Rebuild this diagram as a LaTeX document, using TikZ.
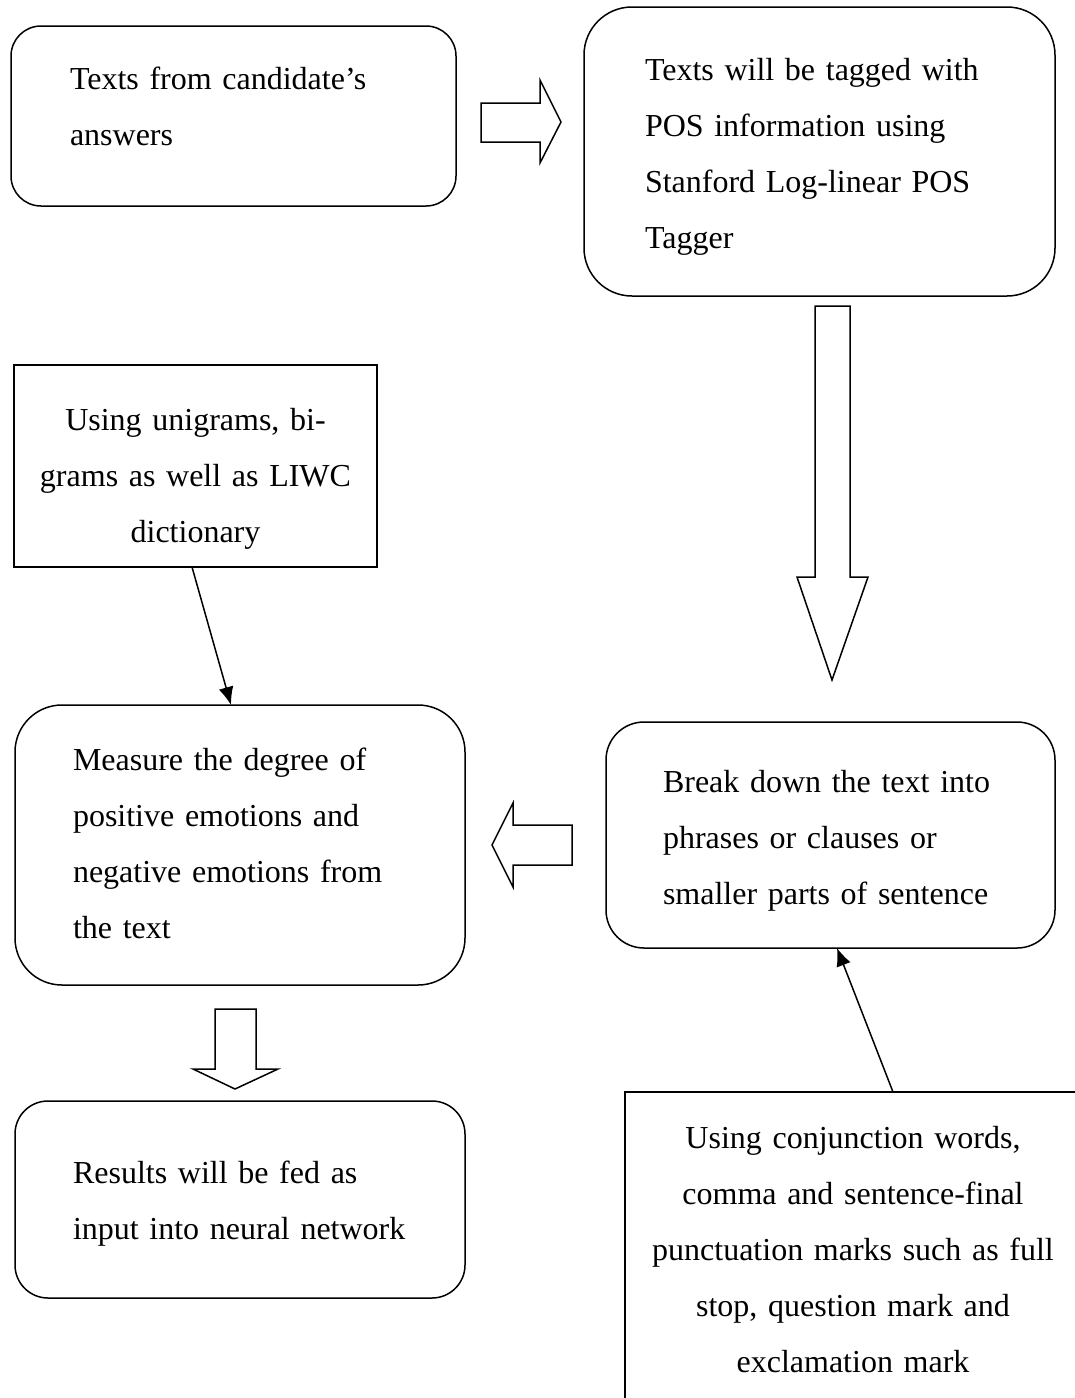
\documentclass[tikz,border=0pt]{standalone}
\usepackage{fontspec}
\setmainfont{Liberation Serif}
\usetikzlibrary{arrows.meta}
\begin{document}
\begin{tikzpicture}[x=1pt,y=-1pt,
  every node/.style={font=\fontsize{32}{56}\selectfont},
  box/.style={draw, line width=1.5pt, anchor=north west, inner ysep=0pt, outer sep=0pt},
  leftbox/.style={box, align=left, inner xsep=#1},
  midbox/.style={box, align=center, inner xsep=10pt},
  blockarrow/.style={draw, line width=1.5pt, fill=white, line join=miter},
  link/.style={draw, line width=1.5pt, -{Latex[length=18pt,width=15pt]}}
]
\clip (0,0) rectangle (1075,1398);
\fill[white] (0,0) rectangle (1075,1398);

% process boxes (text height = first baseline below top, text depth = bottom below first baseline)
\node[leftbox=59pt, rounded corners=30pt, text width=327pt, text height=63pt, text depth=117pt]
  (b1) at (11,26) {Texts from candidate’s\\answers};
\node[leftbox=61pt, rounded corners=48pt, text width=349pt, text height=73pt, text depth=216pt]
  (b2) at (584,7) {Texts will be tagged with\\POS information using\\Stanford Log-linear POS\\Tagger};
\node[midbox, text width=343pt, text height=65pt, text depth=137pt]
  (b3) at (14,365) {Using unigrams, bi-\\grams as well as LIWC\\dictionary};
\node[leftbox=58pt, rounded corners=47pt, text width=334pt, text height=65pt, text depth=215pt]
  (b4) at (15,705) {Measure the degree of\\positive emotions and\\negative emotions from\\the text};
\node[leftbox=57pt, rounded corners=38pt, text width=335pt, text height=70pt, text depth=156pt]
  (b5) at (606,722) {Break down the text into\\phrases or clauses or\\smaller parts of sentence};
\node[midbox, text width=436pt, text height=56pt, text depth=258pt]
  (b6) at (625,1092) {Using conjunction words,\\comma and sentence-final\\punctuation marks such as full\\stop, question mark and\\exclamation mark};
\node[leftbox=58pt, rounded corners=33pt, text width=334pt, text height=82pt, text depth=115pt]
  (b7) at (15,1101) {Results will be fed as\\input into neural network};

% block arrows between steps
\path[blockarrow] (481,103) -- (540,103) -- (540,80) -- (561,122) -- (540,163) -- (540,142) -- (481,142) -- cycle;
\path[blockarrow] (815,306) -- (850,306) -- (850,577) -- (868,577) -- (832,680) -- (797,577) -- (815,577) -- cycle;
\path[blockarrow] (572,825) -- (572,865) -- (513,865) -- (513,887) -- (492,845) -- (513,803) -- (513,825) -- cycle;
\path[blockarrow] (215,1009) -- (256,1009) -- (256,1069) -- (278,1069) -- (235,1089) -- (193,1069) -- (215,1069) -- cycle;

% thin arrows from the method notes
\draw[link] ([xshift=178pt]b3.south west) -- ([xshift=216pt]b4.north west);
\draw[link] ([xshift=268pt]b6.north west) -- ([xshift=231pt]b5.south west);
\end{tikzpicture}
\end{document}
